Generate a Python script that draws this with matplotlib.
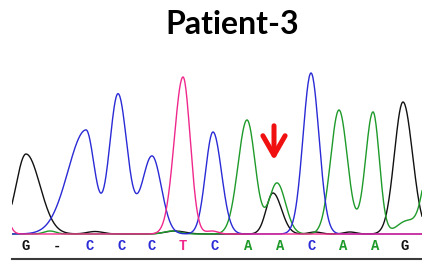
import numpy as np
import matplotlib.pyplot as plt

# peak tables: centre (scan), height, left width, right width
g_peaks = [(26, 80, 10, 14), (95, 2.5, 8, 8), (175, 3, 10, 10), (273, 41, 6.8, 8.5),
           (315, 2, 6, 6), (350, 2, 6, 6), (403, 132, 8.6, 9.5)]
a_peaks = [(50, 3, 6, 6), (172, 3, 8, 8), (247, 114, 9, 8.2), (277, 51, 8, 8.5),
           (339, 124, 8.4, 8.4), (373, 122, 7.5, 6.4), (407, 13, 10, 10), (432, 85, 8, 8)]
c_peaks = [(86, 104, 18, 8.5), (118, 140, 8.5, 9), (152, 78, 10, 9.3),
           (213, 102, 7.5, 8.5), (311, 161, 8, 8)]
t_peaks = [(0, 45, 6, 6), (183, 157, 8.7, 7.2), (212, 3, 6, 6)]

# base calls and their scan positions
calls = ['G', '-', 'C', 'C', 'C', 'T', 'C', 'A', 'A', 'C', 'A', 'A', 'G']
call_pos = [26, 57, 90, 122, 152, 183, 215, 248, 280, 312, 343, 375, 405]

colours = {'G': '#111111', 'A': '#1e9a2a', 'C': '#2a2ad6', 'T': '#f0288c', '-': '#111111'}

scan = np.linspace(12, 422, 821)


def trace(peaks):
    y = np.zeros_like(scan)
    for c, h, sl, sr in peaks:
        s = np.where(scan < c, sl, sr)
        y += h * np.exp(-0.5 * ((scan - c) / s) ** 2)
    return y


fig = plt.figure(figsize=(4.22, 2.61), dpi=100)
ax = fig.add_axes((12 / 422, 2 / 261, 410 / 422, 199 / 261))

for base, peaks in [('G', g_peaks), ('A', a_peaks), ('C', c_peaks), ('T', t_peaks)]:
    ax.plot(scan, trace(peaks), color=colours[base], lw=1.0, solid_joinstyle='miter')

for b, x in zip(calls, call_pos):
    ax.text(x, -12, b, color=colours[b], ha='center', va='center',
            family='Liberation Mono', fontweight='bold', fontsize=10)

# mutation arrow
ax.annotate('', xy=(274, 71), xytext=(274, 111),
            arrowprops=dict(arrowstyle='->,head_length=0.7,head_width=0.4',
                            color='#f01010', lw=3.6, mutation_scale=20))

ax.set_xlim(12, 422)
ax.set_ylim(-25, 174)
ax.set_xticks([])
ax.set_yticks([])
for side in ['top', 'left', 'right']:
    ax.spines[side].set_visible(False)
ax.spines['bottom'].set_color('#3a3a3a')
ax.spines['bottom'].set_linewidth(1.5)

fig.text(232 / 422, 1 - 24 / 261, 'Patient-3', ha='center', va='center',
         family='Lato', fontweight='bold', fontsize=23)

fig.savefig('out.png', dpi=100)
